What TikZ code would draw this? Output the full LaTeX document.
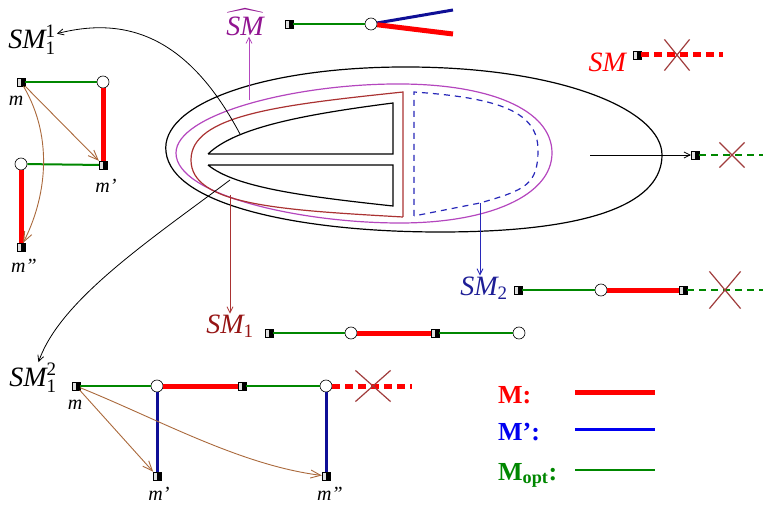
\documentclass[tikz,border=0pt]{standalone}
\usepackage{fontspec}
\setmainfont{Liberation Serif}
\usepackage{amsmath}
\usetikzlibrary{positioning, shapes, shapes.misc, arrows.meta}
\tikzset{>={Straight Barb[length=6pt,width=6pt]}}
\definecolor{mred}{RGB}{255,0,0}
\definecolor{mblue}{RGB}{15,15,150}
\definecolor{lblue}{RGB}{0,0,240}
\definecolor{mgreen}{RGB}{0,135,0}
\definecolor{smred}{RGB}{150,20,20}
\definecolor{smpurple}{RGB}{145,20,145}
\definecolor{smblue}{RGB}{30,30,150}
\definecolor{rimpurple}{RGB}{180,70,190}
\definecolor{rimbrown}{RGB}{170,50,50}
\definecolor{rimblue}{RGB}{40,40,185}
\definecolor{orderbrown}{RGB}{170,105,60}
\definecolor{xbrown}{RGB}{160,60,60}
\newcommand{\idx}[1]{\mbox{\fontsize{19}{19}\selectfont #1}}
\tikzset{
    term/.style = {rectangle, draw, thin, fill=black!12, inner sep=0pt, minimum size=8pt,
                    path picture={\fill[black] (path picture bounding box.north) rectangle (path picture bounding box.south east);}},
    junction/.style = {circle, draw, semithick, fill=white, inner sep=0pt, minimum size=12pt},
    mline/.style = {draw=mred, line width=5pt},
    mpline/.style = {draw=mblue, line width=3pt},
    optline/.style = {draw=mgreen, line width=2pt},
    mdash/.style = {draw=mred, line width=5pt, dash pattern=on 8pt off 5pt},
    optdash/.style = {draw=mgreen, line width=2pt, dash pattern=on 7pt off 5pt},
    cutoff/.style = {cross out, draw=xbrown, line width=1.2pt, minimum width=24pt, minimum height=30pt},
    setlabel/.style = {font=\fontsize{28}{32}\selectfont, inner sep=1pt},
    vlabel/.style = {font=\fontsize{20}{23}\selectfont\itshape, inner sep=1pt},
    legendlabel/.style = {font=\fontsize{26}{30}\selectfont\bfseries, anchor=base west, inner sep=0pt},
    order/.style = {draw=orderbrown, line width=0.9pt, ->, >={Straight Barb[length=10pt,width=8pt]}},
    rim/.style = {line width=1.2pt}
}

\begin{document}
\begin{tikzpicture}[x=1pt, y=-1pt]
		\useasboundingbox (0,0) rectangle (763,505);
		% the set and its subsets
		\draw [rim] (166,152) .. controls (160,105) and (260,68) .. (400,67) .. controls (560,66) and (662,110) .. (662,155) .. controls (662,200) and (600,232) .. (440,232) .. controls (300,232) and (172,205) .. (166,152) -- cycle;
		\draw [rim, draw=rimpurple] (176,153) .. controls (176,115) and (290,85) .. (393,84) .. controls (490,83) and (552,110) .. (552,153) .. controls (552,195) and (490,223) .. (400,223) .. controls (300,223) and (176,195) .. (176,153) -- cycle;
		\draw [rim, draw=rimbrown] (403,217) -- (403,92) .. controls (280,105) and (191,115) .. (191,160) .. controls (191,205) and (280,210) .. (403,217);
		\draw [rim] (208,154) -- (393,154) -- (393,103) .. controls (300,115) and (235,128) .. (208,154);
		\draw [rim] (208,165) -- (393,165) -- (393,206) .. controls (300,196) and (235,187) .. (208,165);
		\draw [rim, draw=rimblue, dash pattern=on 6pt off 5pt] (414,216) -- (414,92) .. controls (500,98) and (538,112) .. (538,150) .. controls (538,185) and (525,190) .. (480,203) -- cycle;

		% labels
		\node (smhat) [setlabel, text=smpurple] at (245,22) {$\widehat{\mathit{SM}}$};
		\node (sm) [setlabel, text=mred] at (608,62) {\textit{SM}};
		\node (sm11) [setlabel] at (32,40) {$\mathit{SM}_{\idx{1}}^{\idx{1}}$};
		\node (sm12) [setlabel] at (33,378) {$\mathit{SM}_{\idx{1}}^{\idx{2}}$};
		\node (sm1) [setlabel, text=smred] at (230,326) {$\mathit{SM}_{\idx{1}}$};
		\node (sm2) [setlabel, text=smblue] at (484,288) {$\mathit{SM}_{\idx{2}}$};

		\coordinate (u1) at (240,134);
		\coordinate (u2) at (230,180);
		\coordinate (g1) at (249,100);
		\coordinate (r1) at (230,195);
		\coordinate (d1) at (480,203);
		\coordinate (o0) at (590,155);
		\draw [->, line width=0.8pt] (u1) .. controls (190,40) and (130,15) .. (sm11);
		\draw [->, line width=0.8pt] (u2) .. controls (150,240) and (60,300) .. (sm12);
		\draw [->, draw=rimpurple, line width=0.8pt] (g1) -- (g1 |- smhat.south);
		\draw [->, draw=rimbrown, line width=0.8pt] (r1) -- (r1 |- sm1.north);
		\draw [->, draw=rimblue, line width=0.8pt] (d1) -- (d1 |- sm2.north);

		% top chain
		\node (h0) [term] at (289,24) {};
		\node (h1) [junction] at (371,24) {};
		\coordinate (h2) at (453,10);
		\coordinate (h3) at (453,34);
		\draw [optline] (h0) -- (h1);
		\draw [mpline] (h1) -- (h2);
		\draw [mline] (h1) -- (h3);

		% cut chains
		\node (s0) [term] at (637,55) {};
		\coordinate (s1) at (723,55);
		\draw [mdash] (s0) -- (s1);
		\node (s2) [cutoff] at (677,55) {};

		\node (o1) [term] at (695,155) {};
		\coordinate (o2) at (763,155);
		\draw [->, line width=0.8pt] (o0) -- (o1);
		\draw [optdash] (o1) -- (o2);
		\node (o3) [cutoff, minimum width=24pt, minimum height=24pt] at (732,155) {};

		% SM_2 chain
		\node (b0) [term] at (518,290) {};
		\node (b1) [junction] at (601,290) {};
		\node (b2) [term] at (683,290) {};
		\coordinate (b3) at (763,290);
		\draw [optline] (b0) -- (b1);
		\draw [mline] (b1) -- (b2);
		\draw [optdash] (b2) -- (b3);
		\node (b4) [cutoff, minimum width=30pt, minimum height=36pt] at (725,290) {};

		% SM_1 chain
		\node (a0) [term] at (269,333) {};
		\node (a1) [junction] at (351,333) {};
		\node (a2) [term] at (435,333) {};
		\node (a3) [junction] at (519,333) {};
		\draw [optline] (a0) -- (a1);
		\draw [mline] (a1) -- (a2);
		\draw [optline] (a2) -- (a3);

		% SM_1^1
		\node (p0) [term] at (21,82) {};
		\node (p1) [junction] at (103,82) {};
		\node (p2) [term] at (103,165) {};
		\node (p3) [junction] at (21,164) {};
		\node (p4) [term] at (21,247) {};
		\node (pm0) [vlabel] at (16,101) {m};
		\node (pm1) [vlabel] at (106,186) {m'};
		\node (pm2) [vlabel] at (24,266) {m''};
		\draw [optline] (p0) -- (p1);
		\draw [mline] (p1) -- (p2);
		\draw [optline] (p3) -- (p2);
		\draw [mline] (p3) -- (p4);
		\draw [order] (p0) -- (p2);
		\draw [order] (p0) .. controls (55,140) and (45,200) .. (p4);

		% SM_1^2
		\node (q0) [term] at (76,386) {};
		\node (q1) [junction] at (157,386) {};
		\node (q2) [term] at (242,386) {};
		\node (q3) [junction] at (326,386) {};
		\coordinate (q4) at (412,386);
		\node (q5) [term] at (157,476) {};
		\node (q6) [term] at (326,476) {};
		\node (qm0) [vlabel] at (75,405) {m};
		\node (qm1) [vlabel] at (159,494) {m'};
		\node (qm2) [vlabel] at (330,494) {m''};
		\draw [optline] (q0) -- (q1);
		\draw [mline] (q1) -- (q2);
		\draw [optline] (q2) -- (q3);
		\draw [mdash] (q3) -- (q4);
		\node (q7) [cutoff, minimum width=34pt, minimum height=30pt] at (373,386) {};
		\draw [mpline] (q1) -- (q5);
		\draw [mpline] (q3) -- (q6);
		\draw [order] (q0) -- (q5);
		\draw [order] (q0) .. controls (160,420) and (240,465) .. (q6);

		% legend
		\node (lm) [legendlabel, text=mred] at (498,403) {M:};
		\node (lmp) [legendlabel, text=lblue] at (498,440) {M’:};
		\node (lmo) [legendlabel, text=mgreen] at (498,480) {M\textsubscript{opt}:};
		\coordinate (lm1) at (575,392);
		\coordinate (lm2) at (655,392);
		\coordinate (lmp1) at (575,429);
		\coordinate (lmp2) at (655,429);
		\coordinate (lmo1) at (575,470);
		\coordinate (lmo2) at (655,470);
		\draw [mline] (lm1) -- (lm2);
		\draw [draw=lblue, line width=3pt] (lmp1) -- (lmp2);
		\draw [optline] (lmo1) -- (lmo2);
	\end{tikzpicture}
\end{document}
